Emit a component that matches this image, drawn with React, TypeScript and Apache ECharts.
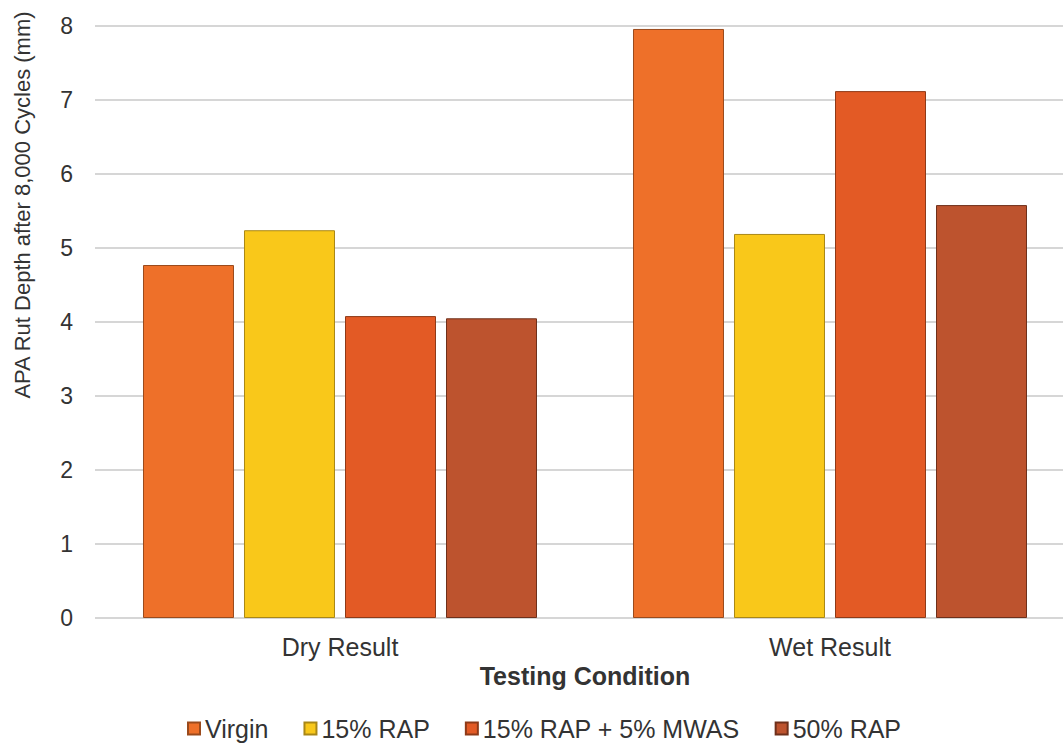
import React, { useEffect, useRef } from "react";
import * as echarts from "echarts";

const categories = ["Dry Result", "Wet Result"];
const seriesNames = ["Virgin", "15% RAP", "15% RAP + 5% MWAS", "50% RAP"];
const virgin = [4.77, 7.96];
const rap15 = [5.24, 5.19];
const rapMwas = [4.08, 7.12];
const rap50 = [4.05, 5.58];
const yTitle = "APA Rut Depth after 8,000 Cycles (mm)";
const xTitle = "Testing Condition";
const colors = ["#EE7029", "#F9C81A", "#E35A25", "#BD532E"];
const borders = ["#9a4a1c", "#a98716", "#8e3a18", "#6e301b"];

const FONT = "Liberation Sans, Arial, sans-serif";

export default function App() {
  const ref = useRef<HTMLDivElement>(null);
  useEffect(() => {
    const chart = echarts.init(ref.current!, undefined, { renderer: "svg" });
    const values = [virgin, rap15, rapMwas, rap50];
    chart.setOption({
      animation: false,
      backgroundColor: "#ffffff",
      textStyle: { fontFamily: FONT },
      grid: { left: 95, top: 26, right: 5, bottom: 126, containLabel: false },
      legend: {
        top: 711,
        left: 182,
        itemWidth: 12,
        itemHeight: 12,
        itemGap: 35,
        icon: "rect",
        textStyle: { fontSize: 25, lineHeight: 25, color: "#333" },
        data: seriesNames,
      },
      graphic: [
        {
          type: "text",
          x: 22,
          y: 205,
          rotation: Math.PI / 2,
          style: {
            text: yTitle,
            fontSize: 22,
            fontFamily: FONT,
            fill: "#333",
            textAlign: "center",
            textVerticalAlign: "middle",
          },
        },
      ],
      xAxis: {
        type: "category",
        data: categories,
        axisLine: { show: false },
        axisTick: { show: false },
        axisLabel: { fontSize: 25, color: "#333", margin: 16 },
        name: xTitle,
        nameLocation: "middle",
        nameGap: 42,
        nameTextStyle: { fontSize: 25, fontWeight: "bold", color: "#333" },
      },
      yAxis: {
        type: "value",
        min: 0,
        max: 8,
        interval: 1,
        axisLine: { show: false },
        axisTick: { show: false },
        axisLabel: { fontSize: 23, color: "#333", margin: 22 },
        splitLine: { lineStyle: { color: "#c8c8c8", width: 1.5 } },
      },
      series: seriesNames.map((n, i) => ({
        name: n,
        type: "bar",
        data: values[i],
        barWidth: 91,
        barGap: "11%",
        itemStyle: { color: colors[i], borderColor: borders[i], borderWidth: 1 },
      })),
    });
    return () => chart.dispose();
  }, []);
  return (
    <div
      ref={ref}
      style={{ position: "fixed", left: 0, top: 0, width: 1080, height: 744 }}
    />
  );
}
